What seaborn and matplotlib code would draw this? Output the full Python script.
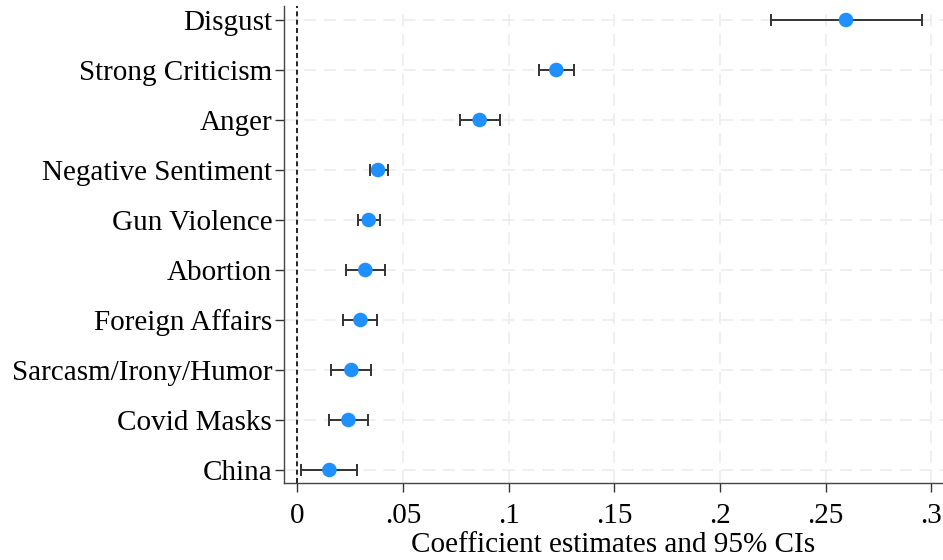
import numpy as np
import pandas as pd
import matplotlib
matplotlib.use("Agg")
import matplotlib.pyplot as plt
import seaborn as sns

categories = ["Disgust", "Strong Criticism", "Anger", "Negative Sentiment",
              "Gun Violence", "Abortion", "Foreign Affairs",
              "Sarcasm/Irony/Humor", "Covid Masks", "China"]
estimates = [0.2597, 0.1226, 0.0863, 0.0382, 0.0338, 0.0322, 0.0299, 0.0256, 0.0242, 0.0152]
ci_low    = [0.2242, 0.1142, 0.0768, 0.0343, 0.0288, 0.0229, 0.0218, 0.0161, 0.0152, 0.0019]
ci_high   = [0.2956, 0.1310, 0.0959, 0.0428, 0.0390, 0.0414, 0.0379, 0.0351, 0.0335, 0.0283]
x_ticks = [0, 0.05, 0.1, 0.15, 0.2, 0.25, 0.3]
x_tick_labels = ["0", ".05", ".1", ".15", ".2", ".25", ".3"]

df = pd.DataFrame({"category": categories, "est": estimates,
                   "lo": ci_low, "hi": ci_high})
df["pos"] = np.arange(len(df))

sns.set_theme(style="white")
plt.rcParams["font.family"] = ["Liberation Serif", "DejaVu Serif"]
plt.rcParams["text.color"] = "black"
plt.rcParams["axes.labelcolor"] = "black"
plt.rcParams["xtick.labelcolor"] = "black"
plt.rcParams["ytick.labelcolor"] = "black"

fig = plt.figure(figsize=(9.43, 5.6), dpi=100)
ax = fig.add_axes([284 / 943, 1 - 483 / 560, 1 - 284 / 943, (483 - 6) / 560])

# grid
for xt in x_ticks:
    ax.axvline(xt, color="#ebebeb", lw=1.1, ls=(0, (8, 5)), zorder=0)
for p in df["pos"]:
    ax.axhline(p, color="#ebebeb", lw=1.1, ls=(0, (8, 5)), zorder=0)

ax.axvline(0, color="black", lw=1.2, ls=(0, (3, 2)), zorder=1)

ax.errorbar(df["est"], df["pos"],
            xerr=[df["est"] - df["lo"], df["hi"] - df["est"]],
            fmt="none", ecolor="#333333", elinewidth=1.4, capsize=4,
            capthick=1.4, zorder=2)
sns.scatterplot(data=df, x="est", y="pos", ax=ax, color="#1e90ff",
                s=110, edgecolor="none", linewidth=0, zorder=3, legend=False)

ax.set_xlim(-0.0063, 0.3056)
ax.set_ylim(9.26, -0.28)
ax.set_yticks(df["pos"])
ax.set_yticklabels(categories)
ax.set_xticks(x_ticks)
ax.set_xticklabels(x_tick_labels)
ax.tick_params(axis="both", which="major", labelsize=21, length=6.5,
               width=1.0, color="#333333", direction="out",
               left=True, bottom=True)
ax.tick_params(axis="y", pad=2)
ax.tick_params(axis="x", pad=8)
ax.set_ylabel("")
ax.set_xlabel("Coefficient estimates and 95% CIs", fontsize=21, labelpad=2)

for s in ["top", "right"]:
    ax.spines[s].set_visible(False)
for s in ["left", "bottom"]:
    ax.spines[s].set_color("#444444")
    ax.spines[s].set_linewidth(1.0)

fig.savefig("out.png", dpi=100)
